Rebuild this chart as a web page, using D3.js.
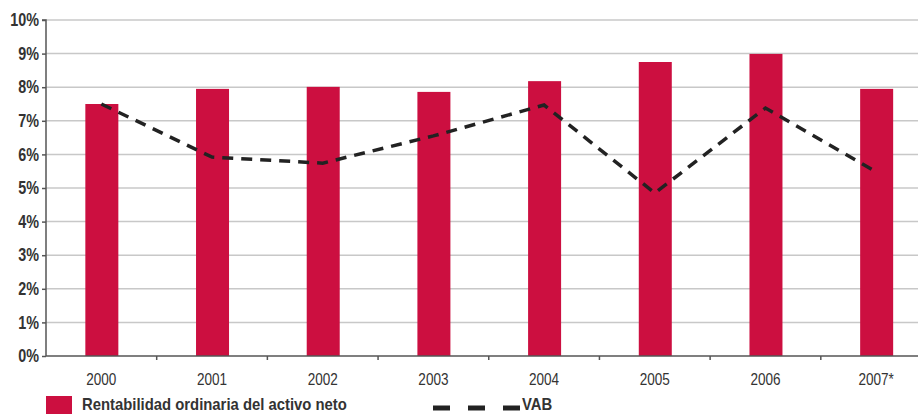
<!DOCTYPE html>
<html><head><meta charset="utf-8">
<script src="https://cdn.jsdelivr.net/npm/d3@7"></script>
<style>
html,body{margin:0;padding:0;background:#fff;overflow:hidden}
svg{display:block}
text{font-family:"Liberation Sans",Arial,sans-serif}
</style></head>
<body>
<svg id="chart" width="918" height="414"></svg>
<script>
const categories = ["2000","2001","2002","2003","2004","2005","2006","2007*"];
const rentabilidad = [7.5, 7.95, 8.01, 7.86, 8.18, 8.75, 8.99, 7.95];
const vab = [7.5, 5.92, 5.74, 6.55, 7.47, 4.85, 7.38, 5.48];
const yTicks = [0,1,2,3,4,5,6,7,8,9,10];
const seriesNames = ["Rentabilidad ordinaria del activo neto", "VAB"];

(function(){
const svg = d3.select("#chart");
const mLeft = 46, mTop = 20, mBottom = 356, mRight = 931.5;
const x = d3.scaleBand().domain(categories).range([mLeft, mRight]).paddingInner(0).paddingOuter(0);
const y = d3.scaleLinear().domain([0,10]).range([mBottom, mTop]);
const barW = 33;
const red = "#cc0f40";
function condense(f){
  return sel => sel.each(function(){
    const w = this.getComputedTextLength();
    d3.select(this).attr("textLength", w*f).attr("lengthAdjust","spacingAndGlyphs");
  });
}

// gridlines
svg.append("g").selectAll("line").data(yTicks.filter(d=>d>0)).join("line")
  .attr("x1", mLeft).attr("x2", 918)
  .attr("y1", d=>y(d)).attr("y2", d=>y(d))
  .attr("stroke", "#c8c8c8").attr("stroke-width", 1.5);

// bars
svg.append("g").selectAll("rect").data(categories).join("rect")
  .attr("x", (d)=>x(d)+x.bandwidth()/2-barW/2+0.5)
  .attr("width", barW)
  .attr("y", (d,i)=>y(rentabilidad[i]))
  .attr("height", (d,i)=>mBottom - y(rentabilidad[i]))
  .attr("fill", red);

// y axis
const yAxis = d3.axisLeft(y).tickValues(yTicks).tickFormat(d=>d+"%").tickSize(4).tickPadding(3);
const ga = svg.append("g").attr("transform", `translate(${mLeft},0)`).call(yAxis);
ga.select(".domain").attr("stroke","#555").attr("stroke-width",1.5).attr("d", `M-4,${mTop}H0V${mBottom}`);
ga.selectAll(".tick line").attr("stroke","#555").attr("stroke-width",1.5);
ga.selectAll(".tick text").attr("fill","#333").attr("font-size",17.5).attr("font-weight","bold")
  .style("font-family",'"Liberation Sans",Arial,sans-serif').call(condense(0.82));

// x axis
const xAxis = d3.axisBottom(x).tickSize(0).tickPadding(17);
const gx = svg.append("g").attr("transform", `translate(0,${mBottom})`).call(xAxis);
gx.select(".domain").attr("stroke","#555").attr("stroke-width",1.5).attr("d", `M${mLeft},0H918`);
gx.selectAll(".tick text").attr("fill","#333").attr("font-size",16.5)
  .style("font-family",'"Liberation Sans",Arial,sans-serif').call(condense(0.82));
gx.append("g").selectAll("line").data(categories.slice(1)).join("line")
  .attr("x1", d=>x(d)).attr("x2", d=>x(d)).attr("y1",0).attr("y2",4)
  .attr("stroke","#555").attr("stroke-width",1.5);

// VAB line
const line = d3.line().x((d,i)=>x(categories[i])+x.bandwidth()/2).y(d=>y(d));
svg.append("path").datum(vab).attr("d", line)
  .attr("fill","none").attr("stroke","#222").attr("stroke-width",3.5)
  .attr("stroke-dasharray","11,8");

// legend
const lg = svg.append("g");
lg.append("rect").attr("x",46).attr("y",396).attr("width",26).attr("height",18).attr("fill",red);
lg.append("text").attr("x",82).attr("y",410).attr("font-size",16.5).attr("font-weight","bold")
  .attr("fill","#333").text(seriesNames[0]).call(condense(0.9));
lg.append("line").attr("x1",433).attr("x2",520).attr("y1",408).attr("y2",408)
  .attr("stroke","#222").attr("stroke-width",5).attr("stroke-dasharray","17,18");
lg.append("text").attr("x",522).attr("y",410).attr("font-size",16.5).attr("font-weight","bold")
  .attr("fill","#333").text(seriesNames[1]).call(condense(0.9));
})();
</script>
</body></html>
